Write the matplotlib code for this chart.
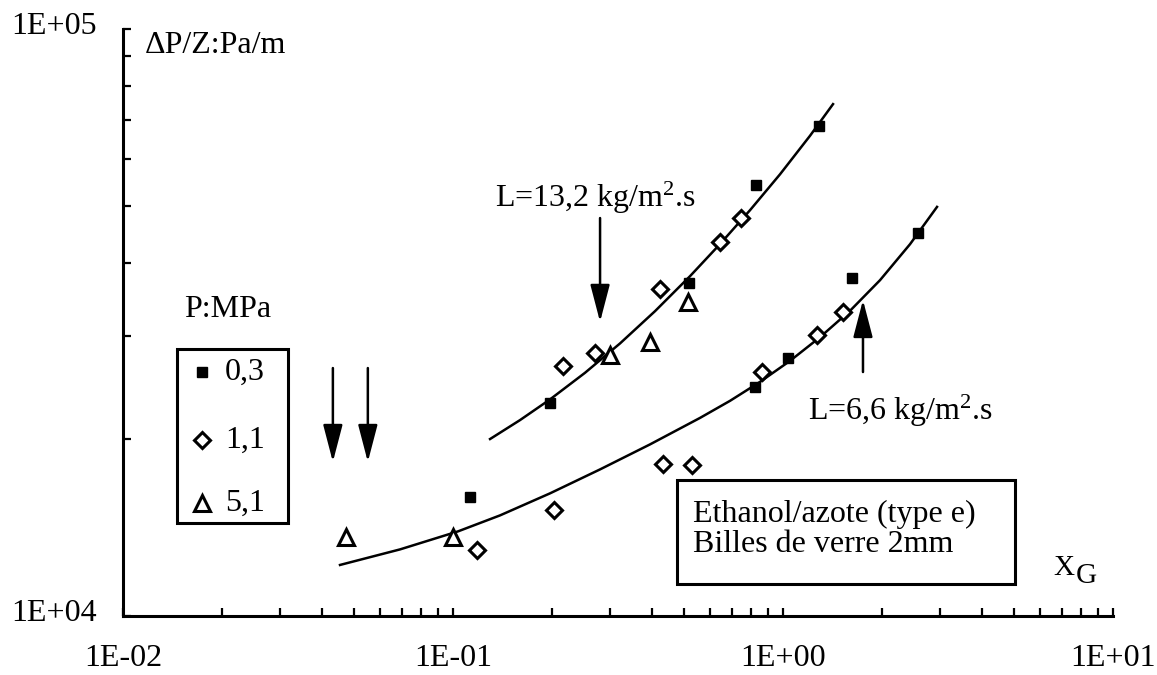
import numpy as np
import matplotlib
matplotlib.use("Agg")
import matplotlib.pyplot as plt
from matplotlib.ticker import LogLocator, NullFormatter, FixedLocator, FixedFormatter
from matplotlib.patches import Rectangle
from matplotlib.lines import Line2D
from matplotlib.transforms import ScaledTranslation

plt.rcParams['font.family'] = ['Liberation Serif', 'DejaVu Serif']
plt.rcParams['mathtext.fontset'] = 'custom'
plt.rcParams['mathtext.rm'] = 'Liberation Serif'
plt.rcParams['mathtext.it'] = 'Liberation Serif:italic'

# ---- data ----
xtick_vals = [0.01, 0.1, 1, 10]
xtick_labels = ['1E-02', '1E-01', '1E+00', '1E+01']
ytick_vals = [1e4, 1e5]
ytick_labels = ['1E+04', '1E+05']

# P = 0,3 MPa (filled squares)
sq_x = [0.1126, 0.197, 0.519, 0.828, 1.285, 0.822, 1.035, 1.618, 2.566]
sq_y = [15950, 23060, 36920, 54230, 68350, 24550, 27510, 37650, 44930]
# P = 1,1 MPa (open diamonds)
di_x = [0.1184, 0.202, 0.215, 0.269, 0.424, 0.644, 0.746, 0.432, 0.530, 0.863, 1.268, 1.52]
di_y = [12950, 15160, 26660, 28060, 36060, 43360, 47640, 18150, 18080, 26040, 30110, 32950]
# P = 5,1 MPa (open triangles)
tr_x = [0.0475, 0.1, 0.299, 0.395, 0.515]
tr_y = [13630, 13630, 27840, 29300, 34270]

# fitted curves (L = 13,2 and L = 6,6 kg/m2.s)
up_x = [0.1295, 0.15958, 0.19677, 0.25119, 0.32074, 0.40936, 0.52264, 0.64422,
        0.79433, 0.97929, 1.2070, 1.4175]
up_y = [20021, 21564, 23388, 25962, 29134, 33061, 37927, 43015,
        49131, 56563, 65778, 74484]
lo_x = [0.04546, 0.06910, 0.10355, 0.13878, 0.19677, 0.27897, 0.39532, 0.56045,
        0.69087, 0.85170, 1.0500, 1.2945, 1.5960, 1.9676, 2.4258, 2.9286]
lo_y = [12217, 12986, 13937, 14838, 16179, 17773, 19604, 21752,
        23258, 25053, 27206, 29854, 33113, 37336, 42998, 49770]

legend_labels = ['0,3', '1,1', '5,1']

FS = 23

# ---- figure ----
fig = plt.figure(figsize=(11.57, 6.75), dpi=100)
ax = fig.add_axes([0.1063, 0.0874, 0.8557, 0.8696])
ax.set_xscale('log')
ax.set_yscale('log')
ax.set_xlim(0.01, 10)
ax.set_ylim(1e4, 1e5)

for s in ['top', 'right']:
    ax.spines[s].set_visible(False)
for s in ['left', 'bottom']:
    ax.spines[s].set_linewidth(2.2)
    ax.spines[s].set_color('black')

ax.xaxis.set_major_locator(FixedLocator(xtick_vals))
ax.xaxis.set_major_formatter(FixedFormatter(xtick_labels))
ax.yaxis.set_major_locator(FixedLocator(ytick_vals))
ax.yaxis.set_major_formatter(FixedFormatter(ytick_labels))
ax.xaxis.set_minor_locator(LogLocator(base=10, subs=np.arange(2, 10)))
ax.yaxis.set_minor_locator(LogLocator(base=10, subs=np.arange(2, 10)))
ax.xaxis.set_minor_formatter(NullFormatter())
ax.yaxis.set_minor_formatter(NullFormatter())
ax.tick_params(which='both', direction='in', length=6, width=1.6, color='black')
ax.tick_params(axis='x', which='major', pad=20, labelsize=FS)
ax.tick_params(axis='y', which='major', pad=19, labelsize=FS)
shift_up = ScaledTranslation(0, 0.06, fig.dpi_scale_trans)
for lab in ax.get_yticklabels():
    lab.set_transform(lab.get_transform() + shift_up)

# curves
ax.plot(up_x, up_y, color='black', lw=1.8, zorder=2)
ax.plot(lo_x, lo_y, color='black', lw=1.8, zorder=2)

# markers
ax.plot(sq_x, sq_y, ls='none', marker='s', ms=7, color='black', zorder=3, clip_on=False)
ax.plot(di_x, di_y, ls='none', marker='D', ms=8.5, mfc='white', mec='black', mew=2.2,
        zorder=3, clip_on=False)
ax.plot(tr_x, tr_y, ls='none', marker='^', ms=12, mfc='white', mec='black', mew=2.2,
        zorder=3, clip_on=False)

# arrows
arrow_kw = dict(arrowstyle='-|>,head_length=1.15,head_width=0.3', color='black',
                lw=1.8, mutation_scale=20, shrinkA=0, shrinkB=0)
ax.annotate('', xy=(0.04325, 18300), xytext=(0.04325, 26450), arrowprops=arrow_kw)
ax.annotate('', xy=(0.0552, 18300), xytext=(0.0552, 26450), arrowprops=arrow_kw)
ax.annotate('', xy=(0.279, 31700), xytext=(0.279, 47640), arrowprops=arrow_kw)
ax.annotate('', xy=(1.747, 34540), xytext=(1.747, 26040), arrowprops=arrow_kw)

# annotations
ax.text(0.3758, 0.6968, r'L=13,2 kg/m$^{\mathrm{2}}$.s', transform=ax.transAxes,
        fontsize=FS, ha='left', va='baseline')
ax.text(0.6919, 0.334, r'L=6,6 kg/m$^{\mathrm{2}}$.s', transform=ax.transAxes,
        fontsize=FS, ha='left', va='baseline')
ax.text(0.0222, 0.9727, 'ΔP/Z:Pa/m', transform=ax.transAxes, fontsize=FS,
        ha='left', va='center')
ax.text(0.106, 0.523, 'P:MPa', transform=ax.transAxes, fontsize=FS,
        ha='center', va='center')
ax.text(0.9394, 0.0698, 'X', transform=ax.transAxes, fontsize=21, ha='left', va='baseline')
ax.text(0.9626, 0.0562, 'G', transform=ax.transAxes, fontsize=21, ha='left', va='baseline')

# legend box
ax.add_patch(Rectangle((0.0545, 0.1584), 0.1667 - 0.0545, 0.4549 - 0.1584,
                       transform=ax.transAxes, fill=False, ec='black', lw=2.2,
                       clip_on=False, zorder=4))
leg_y = [0.4157, 0.2998, 0.1925]
leg_styles = [dict(marker='s', ms=7, color='black'),
              dict(marker='D', ms=8.5, mfc='white', mec='black', mew=2.2),
              dict(marker='^', ms=12, mfc='white', mec='black', mew=2.2)]
for yy, lab, st in zip(leg_y, legend_labels, leg_styles):
    ax.add_line(Line2D([0.0798], [yy], transform=ax.transAxes, ls='none',
                       clip_on=False, zorder=5, **st))
    ax.text(0.103, yy, lab, transform=ax.transAxes, fontsize=FS,
            ha='left', va='center')

# description box
ax.add_patch(Rectangle((0.5596, 0.0545), 0.901 - 0.5596, 0.2317 - 0.0545,
                       transform=ax.transAxes, fill=False, ec='black', lw=2.2,
                       clip_on=False, zorder=4))
ax.text(0.5758, 0.1601, 'Ethanol/azote (type e)', transform=ax.transAxes,
        fontsize=FS, ha='left', va='baseline')
ax.text(0.5758, 0.109, 'Billes de verre 2mm', transform=ax.transAxes,
        fontsize=FS, ha='left', va='baseline')

fig.savefig('out.png', dpi=100, facecolor='white')
